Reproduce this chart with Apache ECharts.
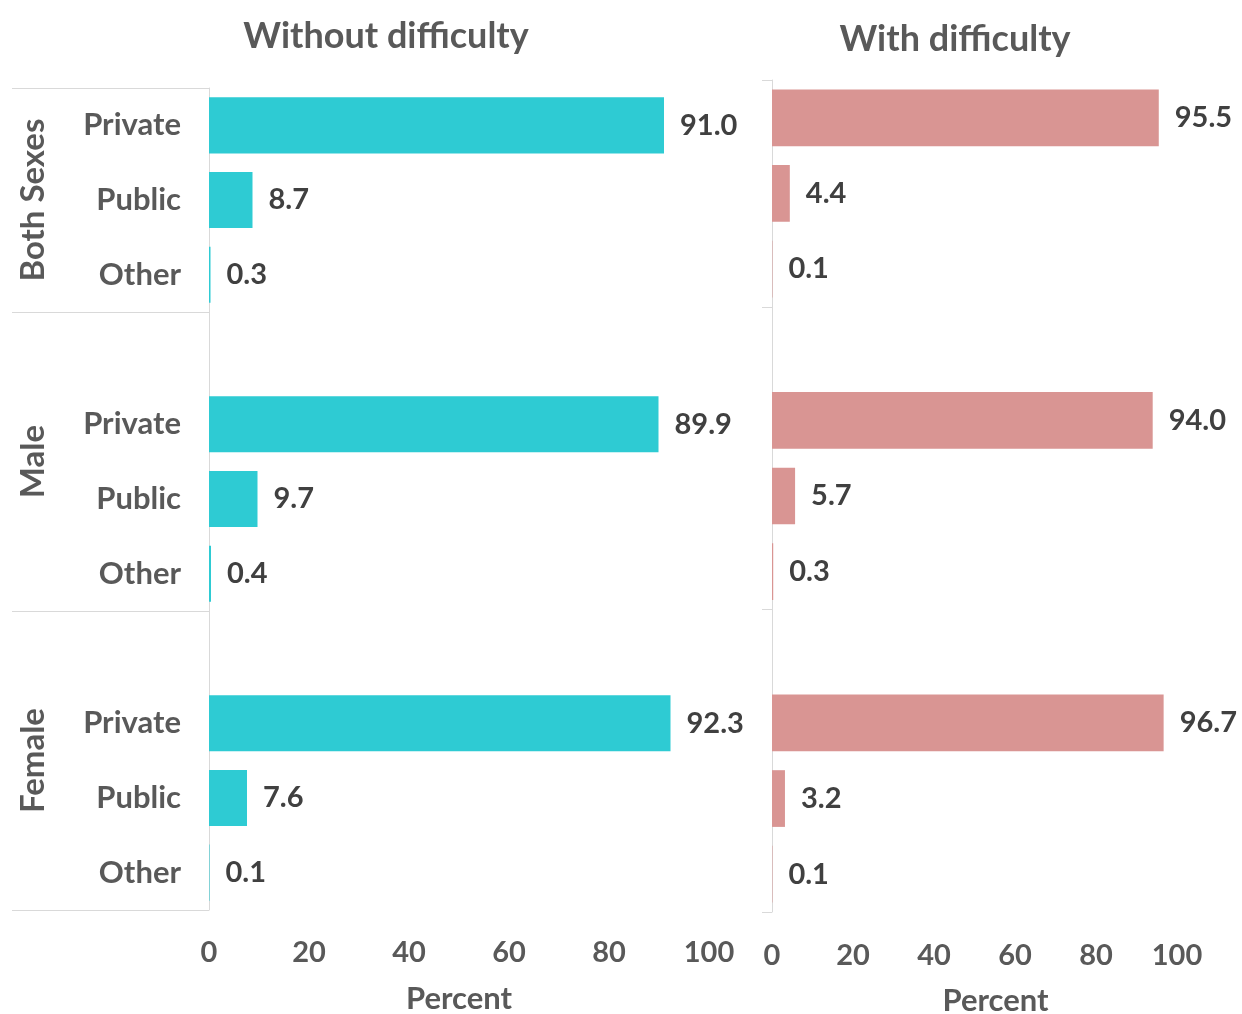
<!DOCTYPE html>
<html>
<head>
<meta charset="utf-8">
<script src="https://cdn.jsdelivr.net/npm/echarts@6/dist/echarts.min.js"></script>
<style>
html,body{margin:0;padding:0;background:#fff;}
#chart{width:1242px;height:1014px;}
</style>
</head>
<body>
<div id="chart"></div>
<script>
// ---- data ----
const groups = ["Both Sexes", "Male", "Female"];
const sectors = ["Private", "Public", "Other"];
// slots: each group after the first starts with a blank spacer slot
const slotKeys = [
  "Both Sexes|Private", "Both Sexes|Public", "Both Sexes|Other",
  "Male|", "Male|Private", "Male|Public", "Male|Other",
  "Female|", "Female|Private", "Female|Public", "Female|Other"
];
const withoutDifficulty = [91.0, 8.7, 0.3, null, 89.9, 9.7, 0.4, null, 92.3, 7.6, 0.1];
const withDifficulty    = [95.5, 4.4, 0.1, null, 94.0, 5.7, 0.3, null, 96.7, 3.2, 0.1];
const groupBoundaryIdx = [0, 3, 7];
const groupCenters = {1.5: "Both Sexes", 5: "Male", 9: "Female"};
const xTicks = [0, 20, 40, 60, 80, 100];
const titles = ["Without difficulty", "With difficulty"];
const axisName = "Percent";

const FONT = "Lato";
const GREY = "#595959";
const DARK = "#404040";
const LINE = "#d9d9d9";

const chart = echarts.init(document.getElementById('chart'), null, {renderer: 'canvas'});

function catLabel(v) { return v.split('|')[1]; }

const xCfg = [
  {margin: 28, nameGap: 73, namePad: [0, 0, 0, 0]},
  {margin: 29, nameGap: 73, namePad: [0, 0, 0, 42]}
];

const option = {
  animation: false,
  backgroundColor: '#fff',
  textStyle: {fontFamily: FONT},
  title: [
    {text: titles[0], left: 381, top: 13, textAlign: 'center',
     textStyle: {fontFamily: FONT, fontSize: 36, fontWeight: 'bold', color: GREY}},
    {text: titles[1], left: 950, top: 16, textAlign: 'center',
     textStyle: {fontFamily: FONT, fontSize: 36, fontWeight: 'bold', color: GREY}}
  ],
  grid: [
    {left: 209, right: 533, top: 88, bottom: 104, containLabel: false, outerBoundsMode: 'none'},
    {left: 772, right: 65, top: 80, bottom: 102, containLabel: false, outerBoundsMode: 'none'}
  ],
  xAxis: [0, 1].map(i => ({
    type: 'value', gridIndex: i, min: 0, max: 100, interval: 20,
    axisLine: {show: false}, axisTick: {show: false}, splitLine: {show: false},
    axisLabel: {margin: xCfg[i].margin, fontSize: 29, fontWeight: 'bold', color: GREY, fontFamily: FONT,
      formatter: v => xTicks.indexOf(v) >= 0 ? String(v) : ''},
    name: axisName, nameLocation: 'middle', nameGap: xCfg[i].nameGap,
    nameTextStyle: {fontSize: 31, fontWeight: 'bold', color: GREY, fontFamily: FONT,
      padding: xCfg[i].namePad}
  })),
  yAxis: [
    {
      type: 'category', gridIndex: 0, data: slotKeys, inverse: true,
      axisLine: {show: true, lineStyle: {color: LINE, width: 1}},
      axisTick: {show: true, length: 197, lineStyle: {color: LINE, width: 1},
        interval: idx => groupBoundaryIdx.indexOf(idx) >= 0},
      axisLabel: {interval: 0, margin: 28, fontSize: 31, fontWeight: 'bold', color: GREY,
        fontFamily: FONT, formatter: catLabel}
    },
    {
      type: 'value', gridIndex: 0, min: 0, max: 11, interval: 0.5, inverse: true,
      position: 'left',
      axisLine: {show: false}, axisTick: {show: false}, splitLine: {show: false},
      axisLabel: {rotate: 90, margin: 159, fontSize: 33, fontWeight: 'bold', color: GREY,
        fontFamily: FONT, formatter: v => groupCenters[v] || ''}
    },
    {
      type: 'category', gridIndex: 1, data: slotKeys, inverse: true,
      axisLine: {show: true, lineStyle: {color: LINE, width: 1}},
      axisTick: {show: true, length: 10, lineStyle: {color: LINE, width: 1},
        interval: idx => groupBoundaryIdx.indexOf(idx) >= 0},
      axisLabel: {show: false}
    }
  ],
  series: [
    {
      type: 'bar', xAxisIndex: 0, yAxisIndex: 0, data: withoutDifficulty,
      barWidth: '75%', itemStyle: {color: '#2ecbd3'},
      label: {show: true, position: 'right', distance: 16, fontSize: 29, fontWeight: 'bold',
        color: DARK, fontFamily: FONT, formatter: p => p.value == null ? '' : p.value.toFixed(1)}
    },
    {
      type: 'bar', xAxisIndex: 1, yAxisIndex: 2, data: withDifficulty,
      barWidth: '75%', itemStyle: {color: '#d99593'},
      label: {show: true, position: 'right', distance: 16, fontSize: 29, fontWeight: 'bold',
        color: DARK, fontFamily: FONT, formatter: p => p.value == null ? '' : p.value.toFixed(1)}
    }
  ]
};
chart.setOption(option);
</script>
</body>
</html>
